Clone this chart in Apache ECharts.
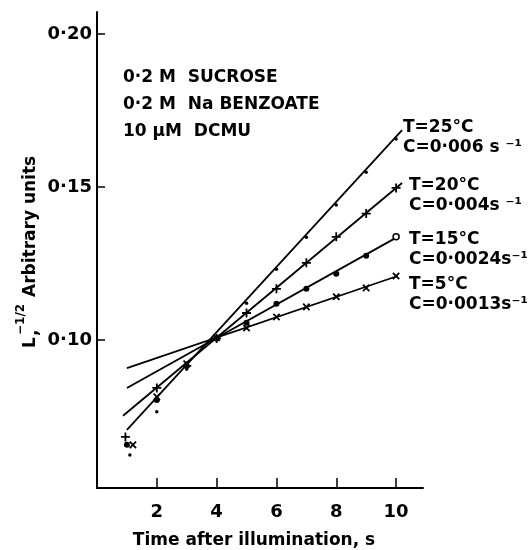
<!DOCTYPE html>
<html>
<head>
<meta charset="utf-8">
<script src="https://cdn.jsdelivr.net/npm/echarts@6/dist/echarts.min.js"></script>
<style>html,body{margin:0;padding:0;background:#fff}#c{width:531px;height:550px}</style>
</head>
<body>
<div id="c"></div>
<script>
// ---- data ----
const xTicks = [2, 4, 6, 8, 10];
const yTicks = [0.10, 0.15, 0.20];

// measured points [time (s), L^-1/2]
const pts25 = [[1.1, 0.0624], [2, 0.0765], [3, 0.0905], [4, 0.1003], [5, 0.1120], [6, 0.1231], [7, 0.1336], [8, 0.1441], [9, 0.1548], [10, 0.1657]];
const pts20 = [[0.95, 0.0683], [2, 0.0843], [3, 0.0915], [4, 0.1005], [5, 0.1088], [6, 0.1167], [7, 0.1252], [8, 0.1337], [9, 0.1413], [10, 0.1497]];
const pts15 = [[1.0, 0.0657], [2, 0.0804], [3, 0.0915], [4, 0.1005], [5, 0.1056], [6, 0.1118], [7, 0.1167], [8, 0.1216], [9, 0.1275], [10, 0.1337]];
const pts5 = [[1.2, 0.0657], [2, 0.0814], [3, 0.0922], [4, 0.1007], [5, 0.1039], [6, 0.1075], [7, 0.1108], [8, 0.1141], [9, 0.1170], [10, 0.1209]];

// fitted straight lines (end points)
const fit25 = [[1.0, 0.0706], [10.2, 0.1686]];
const fit20 = [[0.87, 0.0752], [10.2, 0.1513]];
const fit15 = [[1.0, 0.0843], [10.05, 0.1337]];
const fit5 = [[1.0, 0.0908], [10.05, 0.1209]];

const conditions = ['0·2 M  SUCROSE', '0·2 M  Na BENZOATE', '10 μM  DCMU'];
const seriesLabels = [
  ['T=25°C', 'C=0·006 s ⁻¹'],
  ['T=20°C', 'C=0·004s ⁻¹'],
  ['T=15°C', 'C=0·0024s⁻¹'],
  ['T=5°C', 'C=0·0013s⁻¹']
];
const xName = 'Time after illumination, s';

// ---- chart ----
const FONT = 'DejaVu Sans';
const F17 = 'bold 17px ' + FONT;
const plusPath = 'path://M4,0H6V4H10V6H6V10H4V6H0V4H4Z';
const chart = echarts.init(document.getElementById('c'), null, {renderer: 'canvas'});

function lineSeries(d) {
  return {type: 'line', data: d, symbol: 'none', silent: true,
    lineStyle: {color: '#000', width: 1.8}, z: 2};
}
function scatter(d, symbol, size, rotate) {
  return {type: 'scatter', data: d, symbol: symbol, symbolSize: size, symbolRotate: rotate || 0,
    itemStyle: {color: '#000', opacity: 1}, z: 3};
}
const pts15Styled = pts15.map((p, i) => i === pts15.length - 1
  ? {value: p, itemStyle: {color: '#fff', borderColor: '#000', borderWidth: 1.5}}
  : {value: p});

const labelTop = [128, 186, 240, 285];
const labelLeft = [403, 409, 409, 409];
const graphics = [];
conditions.forEach((t, i) => graphics.push({type: 'text', x: 123, y: 78 + i * 27,
  style: {text: t, font: F17, fill: '#000', verticalAlign: 'middle', align: 'left'}}));
seriesLabels.forEach((pair, i) => {
  graphics.push({type: 'text', x: labelLeft[i], y: labelTop[i],
    style: {text: pair[0], font: F17, fill: '#000', verticalAlign: 'middle'}});
  graphics.push({type: 'text', x: labelLeft[i], y: labelTop[i] + 20,
    style: {text: pair[1], font: F17, fill: '#000', verticalAlign: 'middle'}});
});
graphics.push({type: 'text', x: 254, y: 541,
  style: {text: xName, font: F17, fill: '#000', align: 'center', verticalAlign: 'middle'}});
// y axis title, rotated
graphics.push({type: 'group', x: 31, y: 348, rotation: Math.PI / 2, children: [
  {type: 'text', x: 0, y: 0, style: {text: 'L', font: F17, fill: '#000', verticalAlign: 'middle'}},
  {type: 'text', x: 12, y: 2, style: {text: ',', font: F17, fill: '#000', verticalAlign: 'middle'}},
  {type: 'text', x: 13, y: -10, style: {text: '−1/2', font: 'bold 12px ' + FONT, fill: '#000', verticalAlign: 'middle'}},
  {type: 'text', x: 51, y: 0, style: {text: 'Arbitrary units', font: F17, fill: '#000', verticalAlign: 'middle'}}
]});

chart.setOption({
  animation: false,
  backgroundColor: '#fff',
  grid: {left: 97, right: 108, top: 12, bottom: 62, containLabel: false},
  xAxis: {
    type: 'value', min: 0, max: 10.9,
    axisLine: {show: true, onZero: false, lineStyle: {color: '#000', width: 2}},
    axisTick: {show: true, inside: true, length: 10, customValues: xTicks, lineStyle: {color: '#000', width: 1.5}},
    axisLabel: {customValues: xTicks, fontSize: 18, fontWeight: 'bold', fontFamily: FONT, color: '#000', margin: 15},
    splitLine: {show: false}
  },
  yAxis: {
    type: 'value', min: 0.0516, max: 0.2072,
    axisLine: {show: true, onZero: false, lineStyle: {color: '#000', width: 2}},
    axisTick: {show: true, inside: true, length: 8, customValues: yTicks, lineStyle: {color: '#000', width: 1.5}},
    axisLabel: {customValues: yTicks, fontSize: 18, fontWeight: 'bold', fontFamily: FONT, color: '#000', margin: 5,
      formatter: v => v.toFixed(2).replace('.', '·')},
    splitLine: {show: false}
  },
  series: [
    lineSeries(fit25), lineSeries(fit20), lineSeries(fit15), lineSeries(fit5),
    scatter(pts25, 'circle', 3.5),
    scatter(pts20, plusPath, 9),
    scatter(pts15Styled, 'circle', 6),
    scatter(pts5, plusPath, 9, 45)
  ],
  graphic: graphics
});
</script>
</body>
</html>
